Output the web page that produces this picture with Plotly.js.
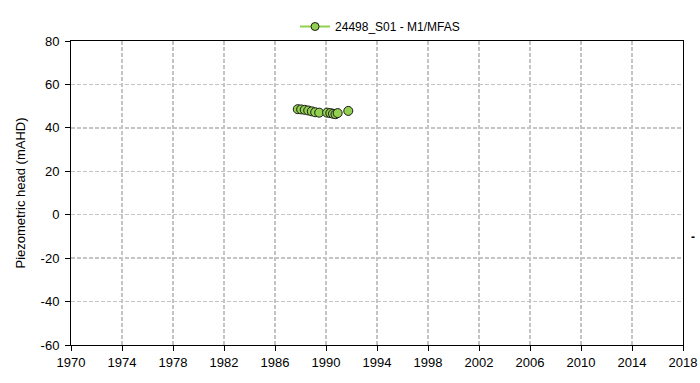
<!DOCTYPE html>
<html>
<head>
<meta charset="utf-8">
<script src="https://cdn.plot.ly/plotly-3.0.1.min.js"></script>
<style>html,body{margin:0;padding:0;background:#fff;}#chart{width:700px;height:383px;}</style>
</head>
<body>
<div id="chart"></div>
<script>
const seriesName = "24498_S01 - M1/MFAS";
const dates = ["1987-10-15","1988-01-20","1988-05-01","1988-08-10","1988-11-20","1989-02-25","1989-06-20","1990-02-01","1990-05-05","1990-07-20","1990-10-01","1990-12-01","1991-10-01"];
const heads = [48.6, 48.5, 48.3, 48.0, 47.6, 47.2, 47.0, 47.0, 46.8, 46.5, 46.3, 46.8, 47.8];
const yTicks = [-60, -40, -20, 0, 20, 40, 60, 80];
const yTickLabels = ["-60", "-40", "-20", "0", "20", "40", "60", "80"];

const font = {family: "Liberation Sans, Arial, sans-serif", size: 13, color: "#000"};

const traces = [
  {x: dates, y: heads, type: "scatter", mode: "markers", showlegend: false, name: seriesName,
   marker: {size: 9, color: "#92D050", line: {color: "#1a1a1a", width: 1}}},
  {x: [null], y: [null], type: "scatter", mode: "lines+markers", name: seriesName,
   line: {color: "#92D050", width: 2},
   marker: {size: 8, color: "#92D050", line: {color: "#1a1a1a", width: 1}}}
];

const gridStyle = {showgrid: true, gridcolor: "#c4c4c4", griddash: "4px,2px", gridwidth: 1.3};

const layout = {
  width: 700, height: 383,
  margin: {l: 71, r: 17, t: 31, b: 38},
  paper_bgcolor: "#fff", plot_bgcolor: "#fff",
  font: font,
  showlegend: true,
  legend: {orientation: "h", x: 0.505, xanchor: "center", y: 1.0, yanchor: "bottom",
           font: {family: font.family, size: 12, color: "#000"}, bgcolor: "rgba(0,0,0,0)"},
  xaxis: Object.assign({
    type: "date", range: ["1970-01-01", "2018-01-01"],
    tick0: "1970-01-01", dtick: "M48", tickformat: "%Y",
    showline: true, linecolor: "#000", linewidth: 1, mirror: true,
    ticks: "outside", ticklen: 5, tickcolor: "#000",
    zeroline: false, tickfont: font
  }, gridStyle),
  yaxis: Object.assign({
    range: [-60, 80], tickmode: "array", tickvals: yTicks, ticktext: yTickLabels,
    showline: true, linecolor: "#000", linewidth: 1, mirror: true,
    ticks: "outside", ticklen: 5, tickcolor: "#000", ticklabelstandoff: 3,
    zeroline: false, tickfont: font,
    title: {text: "Piezometric head (mAHD)", font: font, standoff: 12}
  }, gridStyle),
  annotations: [
    {xref: "paper", yref: "paper", x: 1.023, y: 0.355, text: "<b>-</b>", showarrow: false,
     font: {family: font.family, size: 12, color: "#000"}}
  ]
};

Plotly.newPlot("chart", traces, layout, {displayModeBar: false, staticPlot: true});
</script>
</body>
</html>
